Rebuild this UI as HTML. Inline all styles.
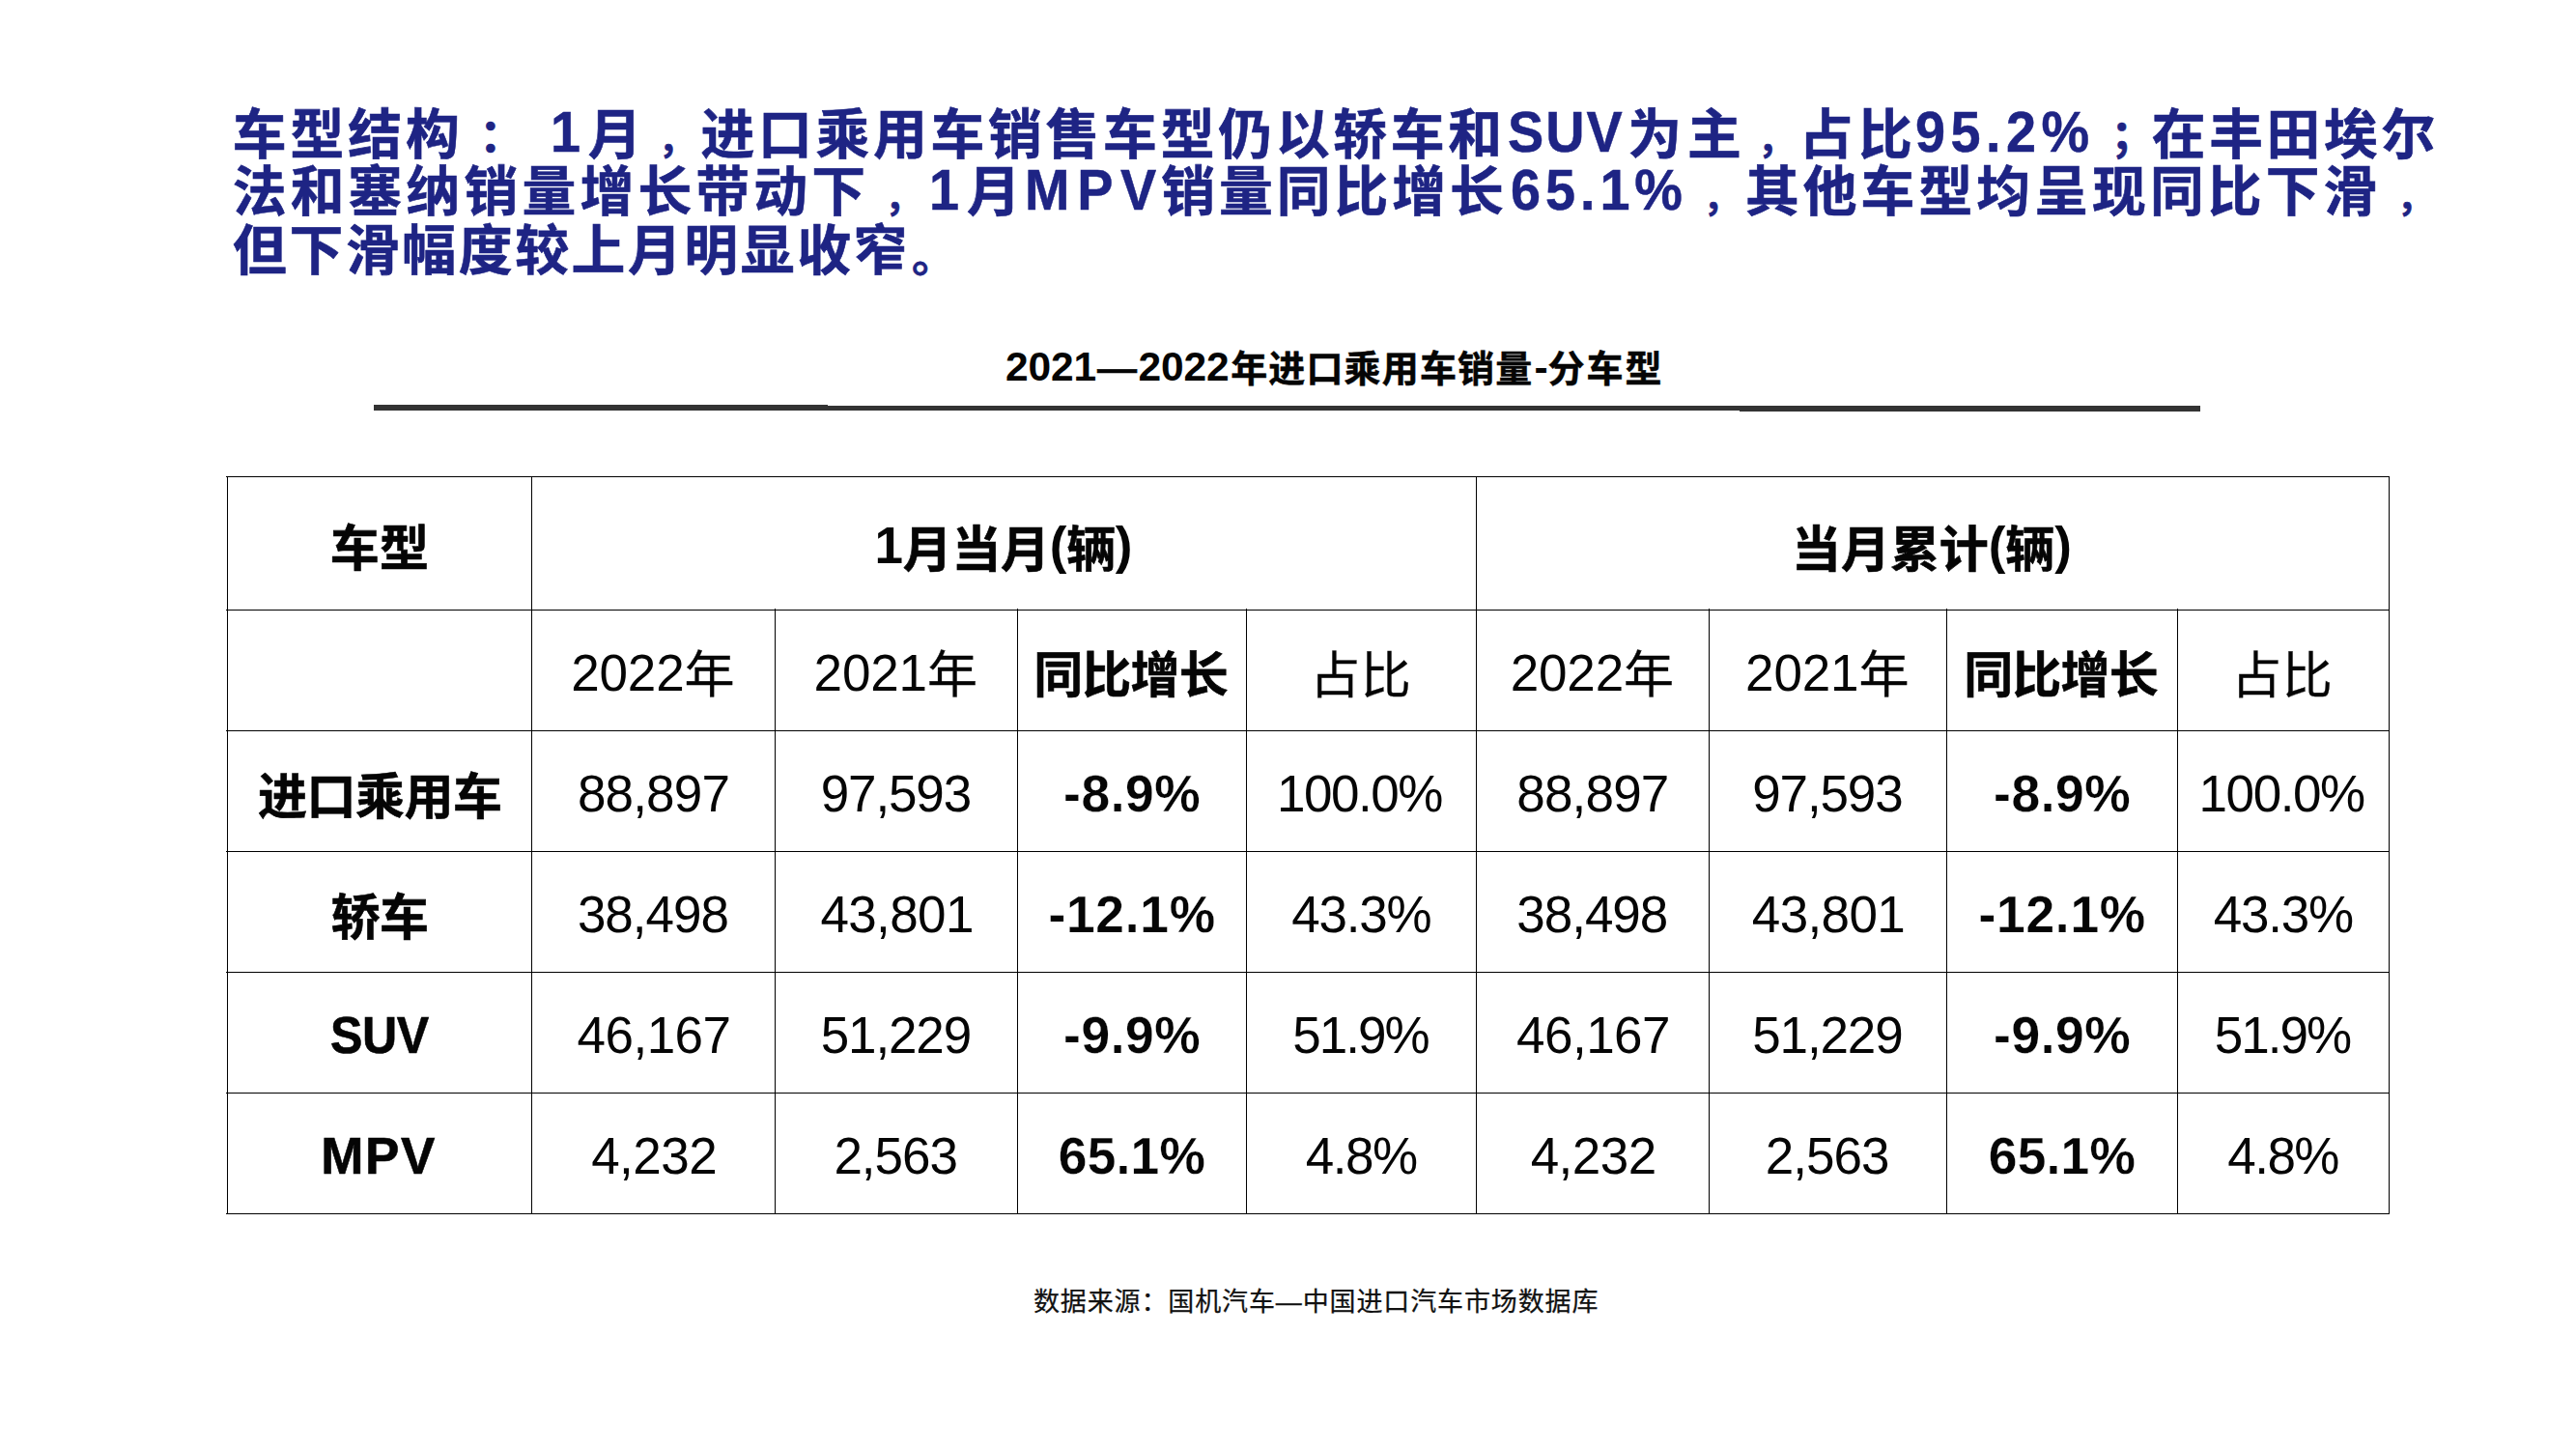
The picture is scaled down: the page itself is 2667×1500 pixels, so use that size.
<!DOCTYPE html>
<html lang="zh-CN">
<head>
<meta charset="utf-8">
<title>车型结构</title>
<style>
  html, body { margin: 0; padding: 0; background: #ffffff; }
  body {
    width: 2667px; height: 1500px; position: relative; overflow: hidden;
    font-family: "Liberation Sans", "Noto Sans CJK SC", sans-serif;
    color: #000;
  }

  /* ---------- heading ---------- */
  .hc, .hl {
    position: absolute; white-space: nowrap; line-height: 60px; height: 60px;
    font-weight: 700; color: #1e2484;
  }
  .hc { font-size: 55.8px; -webkit-text-stroke: 0.6px #1e2484; }
  .hl { font-size: 60px; transform: scaleX(0.93); transform-origin: 0 50%; -webkit-text-stroke: 0.5px #1e2484; }

  /* ---------- chart title ---------- */
  .tt { position: absolute; white-space: nowrap; line-height: 50px; height: 50px; font-weight: 700; color: #050505; }
  .tc { font-size: 38px; -webkit-text-stroke: 0.5px #050505; }
  .tl { font-size: 42.5px; }
  .td { transform: scaleX(1.08); transform-origin: 0 50%; }
  .rule { position: absolute; height: 6px; background: #333333; }

  /* ---------- table ---------- */
  .vl { position: absolute; width: 1px; background: #000; }
  .hline { position: absolute; height: 1px; background: #000; left: 234px; width: 2240px; }
  .c {
    position: absolute; white-space: nowrap; color: #050505;
    font-size: 52px; line-height: 80px; height: 80px; font-weight: 400;
    -webkit-text-stroke: 0.3px #050505;
  }
  .c .n { font-size: 53px; -webkit-text-stroke: 0; }
  .c .k { position: relative; top: 2px; }
  .cb { font-size: 51px; font-weight: 700; -webkit-text-stroke: 0.6px #050505; }
  .cb .n { font-size: 53.3px; -webkit-text-stroke: 0.25px #fff; }
  .cb .h { font-size: 53px; -webkit-text-stroke: 0.6px #050505; }
  .cb .sx { display: inline-block; transform: scaleX(0.945); transform-origin: 0 50%; }
  .cb .p { font-weight: 700; -webkit-text-stroke: 0.3px #fff; }
  .cb .m { position: relative; top: -4px; font-size: 53px; -webkit-text-stroke: 0; }

  /* ---------- footer ---------- */
  .ft {
    position: absolute; white-space: nowrap; color: #111;
    font-size: 27px; line-height: 40px; height: 40px; font-weight: 400; -webkit-text-stroke: 0.25px #111;
  }
</style>
</head>
<body>

<!-- HEADING-START -->
<!-- heading line 1 -->
<div class="hc" style="left:240.7px; top:109.9px; letter-spacing:4.00px;">车型结构</div>
<div class="hc" style="left:495.9px; top:111.0px; letter-spacing:0.00px; font-size:47.5px;">：</div>
<div class="hl" style="left:569.5px; top:107.4px; letter-spacing:0.00px;">1</div>
<div class="hc" style="left:608.8px; top:109.9px; letter-spacing:0.00px;">月</div>
<div class="hc" style="left:681.4px; top:115.2px; letter-spacing:0.00px; font-size:38px;">，</div>
<div class="hc" style="left:725.5px; top:109.9px; letter-spacing:3.72px;">进口乘用车销售车型仍以轿车和</div>
<div class="hl" style="left:1561.4px; top:107.4px; letter-spacing:2.10px;">SUV</div>
<div class="hc" style="left:1685.2px; top:109.9px; letter-spacing:6.00px;">为主</div>
<div class="hc" style="left:1819.7px; top:115.2px; letter-spacing:0.00px; font-size:38px;">，</div>
<div class="hc" style="left:1862.8px; top:109.9px; letter-spacing:5.30px;">占比</div>
<div class="hl" style="left:1983.3px; top:107.4px; letter-spacing:5.91px;">95.2%</div>
<div class="hc" style="left:2185.4px; top:111.6px; letter-spacing:0.00px; font-size:45px;">；</div>
<div class="hc" style="left:2227.7px; top:109.9px; letter-spacing:3.65px;">在丰田埃尔</div>
<!-- heading line 2 -->
<div class="hc" style="left:240.7px; top:169.1px; letter-spacing:4.16px;">法和塞纳销量增长带动下</div>
<div class="hc" style="left:915.9px; top:175.2px; letter-spacing:0.00px; font-size:38px;">，</div>
<div class="hl" style="left:961.7px; top:167.0px; letter-spacing:0.00px;">1</div>
<div class="hc" style="left:1001.0px; top:169.1px; letter-spacing:0.00px;">月</div>
<div class="hl" style="left:1060.5px; top:167.0px; letter-spacing:8.25px;">MPV</div>
<div class="hc" style="left:1202.2px; top:169.1px; letter-spacing:3.98px;">销量同比增长</div>
<div class="hl" style="left:1563.5px; top:167.0px; letter-spacing:5.31px;">65.1%</div>
<div class="hc" style="left:1763.2px; top:175.4px; letter-spacing:0.00px; font-size:38px;">，</div>
<div class="hc" style="left:1806.9px; top:169.1px; letter-spacing:4.07px;">其他车型均呈现同比下滑</div>
<div class="hc" style="left:2481.4px; top:174.8px; letter-spacing:0.00px; font-size:38px;">，</div>
<!-- heading line 3 -->
<div class="hc" style="left:241.1px; top:230.1px; letter-spacing:2.61px;">但下滑幅度较上月明显收窄</div>
<div class="hc" style="left:943.9px; top:236.8px; letter-spacing:0.00px; font-size:45px;">。</div>
<!-- HEADING-END -->

<!-- chart title -->
<!-- TITLE-START -->
<!-- title -->
<div class="tt tl" style="left:1040.9px; top:355.3px; letter-spacing:-0.13px;">2021</div>
<div class="tt tc td" style="left:1136.2px; top:357.1px; letter-spacing:0.00px;">—</div>
<div class="tt tl" style="left:1178.5px; top:355.3px; letter-spacing:-0.17px;">2022</div>
<div class="tt tc" style="left:1274.2px; top:357.0px; letter-spacing:1.14px;">年进口乘用车销量</div>
<div class="tt tl" style="left:1588.4px; top:356.2px; letter-spacing:0.00px;">-</div>
<div class="tt tc" style="left:1602.4px; top:357.0px; letter-spacing:2.00px;">分车型</div>
<!-- TITLE-END -->
<div class="rule" style="left:387px; width:470px; top:419px; height:6px;"></div>
<div class="rule" style="left:857px; width:944px; top:420px; height:5px;"></div>
<div class="rule" style="left:1801px; width:477px; top:420px; height:6px;"></div>

<!-- TABLE-START -->
<!-- table grid -->
<div class="hline" style="top:493px;"></div>
<div class="hline" style="top:631px;"></div>
<div class="hline" style="top:756px;"></div>
<div class="hline" style="top:881px;"></div>
<div class="hline" style="top:1006px;"></div>
<div class="hline" style="top:1131px;"></div>
<div class="hline" style="top:1256px;"></div>
<div class="vl" style="left:235px; top:493px; height:764px;"></div>
<div class="vl" style="left:550px; top:493px; height:764px;"></div>
<div class="vl" style="left:802px; top:630px; height:627px;"></div>
<div class="vl" style="left:1053px; top:630px; height:627px;"></div>
<div class="vl" style="left:1290px; top:630px; height:627px;"></div>
<div class="vl" style="left:1528px; top:493px; height:764px;"></div>
<div class="vl" style="left:1769px; top:630px; height:627px;"></div>
<div class="vl" style="left:2015px; top:630px; height:627px;"></div>
<div class="vl" style="left:2254px; top:630px; height:627px;"></div>
<div class="vl" style="left:2473px; top:493px; height:764px;"></div>
<!-- table header row 1 -->
<div class="c cb" style="left:341.8px; top:529.2px; letter-spacing:0.20px;">车型</div>
<div class="c cb" style="left:905.6px; top:528.8px; letter-spacing:-0.32px;"><span class="n m">1</span>月当月<span class="n m">(</span>辆<span class="n m">)</span></div>
<div class="c cb" style="left:1855.1px; top:529.1px; letter-spacing:-0.10px;">当月累计<span class="n m">(</span>辆<span class="n m">)</span></div>
<!-- table header row 2 -->
<div class="c" style="left:591.3px; top:656.6px; letter-spacing:-0.20px;"><span class="n">2022</span><span class="k">年</span></div>
<div class="c" style="left:842.6px; top:656.6px; letter-spacing:-0.15px;"><span class="n">2021</span><span class="k">年</span></div>
<div class="c cb" style="left:1070.2px; top:660.1px; letter-spacing:-0.83px;">同比增长</div>
<div class="c" style="left:1356.2px; top:660.1px; letter-spacing:0.50px;">占比</div>
<div class="c" style="left:1563.8px; top:656.6px; letter-spacing:-0.20px;"><span class="n">2022</span><span class="k">年</span></div>
<div class="c" style="left:1807.1px; top:656.6px; letter-spacing:-0.15px;"><span class="n">2021</span><span class="k">年</span></div>
<div class="c cb" style="left:2033.2px; top:660.1px; letter-spacing:-0.83px;">同比增长</div>
<div class="c" style="left:2310.2px; top:660.1px; letter-spacing:0.50px;">占比</div>
<!-- table row: 进口乘用车 -->
<div class="c cb" style="left:267.0px; top:785.8px; letter-spacing:-0.50px;">进口乘用车</div>
<div class="c" style="left:597.9px; top:781.9px; letter-spacing:-0.82px;"><span class="n">88,897</span></div>
<div class="c" style="left:849.8px; top:781.9px; letter-spacing:-1.16px;"><span class="n">97,593</span></div>
<div class="c cb" style="left:1101.1px; top:781.9px; letter-spacing:0.60px;"><span class="n">-8.9<span class="p">%</span></span></div>
<div class="c" style="left:1322.0px; top:781.9px; letter-spacing:-1.46px;"><span class="n">100.0%</span></div>
<div class="c" style="left:1570.3px; top:781.9px; letter-spacing:-0.82px;"><span class="n">88,897</span></div>
<div class="c" style="left:1814.3px; top:781.9px; letter-spacing:-1.16px;"><span class="n">97,593</span></div>
<div class="c cb" style="left:2064.1px; top:781.9px; letter-spacing:0.60px;"><span class="n">-8.9<span class="p">%</span></span></div>
<div class="c" style="left:2276.6px; top:781.9px; letter-spacing:-1.46px;"><span class="n">100.0%</span></div>
<!-- table row: 轿车 -->
<div class="c cb" style="left:342.8px; top:910.8px; letter-spacing:-0.80px;">轿车</div>
<div class="c" style="left:597.9px; top:906.9px; letter-spacing:-1.02px;"><span class="n">38,498</span></div>
<div class="c" style="left:849.4px; top:906.9px; letter-spacing:-0.62px;"><span class="n">43,801</span></div>
<div class="c cb" style="left:1085.5px; top:906.9px; letter-spacing:0.74px;"><span class="n">-12.1<span class="p">%</span></span></div>
<div class="c" style="left:1337.3px; top:906.9px; letter-spacing:-1.26px;"><span class="n">43.3%</span></div>
<div class="c" style="left:1570.3px; top:906.9px; letter-spacing:-1.02px;"><span class="n">38,498</span></div>
<div class="c" style="left:1813.8px; top:906.9px; letter-spacing:-0.62px;"><span class="n">43,801</span></div>
<div class="c cb" style="left:2048.6px; top:906.9px; letter-spacing:0.74px;"><span class="n">-12.1<span class="p">%</span></span></div>
<div class="c" style="left:2291.8px; top:906.9px; letter-spacing:-1.26px;"><span class="n">43.3%</span></div>
<!-- table row: SUV -->
<div class="c cb" style="left:341.5px; top:1031.5px; letter-spacing:-0.50px;"><span class="n h sx">SUV</span></div>
<div class="c" style="left:597.4px; top:1031.9px; letter-spacing:-0.48px;"><span class="n">46,167</span></div>
<div class="c" style="left:849.8px; top:1031.9px; letter-spacing:-1.16px;"><span class="n">51,229</span></div>
<div class="c cb" style="left:1101.1px; top:1031.9px; letter-spacing:0.60px;"><span class="n">-9.9<span class="p">%</span></span></div>
<div class="c" style="left:1338.2px; top:1031.9px; letter-spacing:-1.99px;"><span class="n">51.9%</span></div>
<div class="c" style="left:1569.9px; top:1031.9px; letter-spacing:-0.48px;"><span class="n">46,167</span></div>
<div class="c" style="left:1814.3px; top:1031.9px; letter-spacing:-1.16px;"><span class="n">51,229</span></div>
<div class="c cb" style="left:2064.1px; top:1031.9px; letter-spacing:0.60px;"><span class="n">-9.9<span class="p">%</span></span></div>
<div class="c" style="left:2292.7px; top:1031.9px; letter-spacing:-1.99px;"><span class="n">51.9%</span></div>
<!-- table row: MPV -->
<div class="c cb" style="left:332.3px; top:1156.7px; letter-spacing:1.60px;"><span class="n h">MPV</span></div>
<div class="c" style="left:612.2px; top:1156.9px; letter-spacing:-0.55px;"><span class="n">4,232</span></div>
<div class="c" style="left:863.4px; top:1156.9px; letter-spacing:-1.04px;"><span class="n">2,563</span></div>
<div class="c cb" style="left:1095.8px; top:1156.9px; letter-spacing:0.24px;"><span class="n">65.1<span class="p">%</span></span></div>
<div class="c" style="left:1351.8px; top:1156.9px; letter-spacing:-1.50px;"><span class="n">4.8%</span></div>
<div class="c" style="left:1584.7px; top:1156.9px; letter-spacing:-0.55px;"><span class="n">4,232</span></div>
<div class="c" style="left:1827.8px; top:1156.9px; letter-spacing:-1.01px;"><span class="n">2,563</span></div>
<div class="c cb" style="left:2058.8px; top:1156.9px; letter-spacing:0.24px;"><span class="n">65.1<span class="p">%</span></span></div>
<div class="c" style="left:2306.2px; top:1156.9px; letter-spacing:-1.50px;"><span class="n">4.8%</span></div>
<!-- TABLE-END -->

<!-- FOOTER-START -->
<!-- footer -->
<div class="ft" style="left:1070.0px; top:1328.2px; letter-spacing:0.87px;">数据来源：国机汽车—中国进口汽车市场数据库</div>
<!-- FOOTER-END -->

</body>
</html>
